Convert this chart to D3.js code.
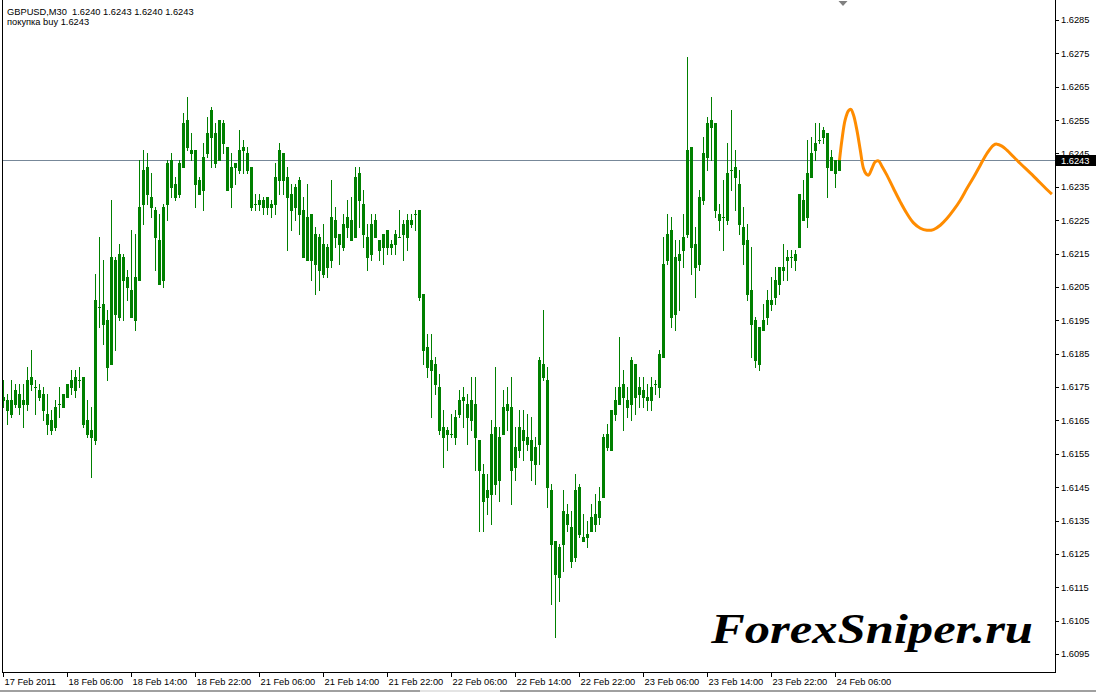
<!DOCTYPE html>
<html><head><meta charset="utf-8">
<script src="https://cdn.jsdelivr.net/npm/d3@7"></script>
<style>html,body{margin:0;padding:0;background:#fff;} svg{display:block;}</style>
</head><body>
<svg id="chart" width="1096" height="692"></svg>
<script>
// ---- data (GBPUSD M30) ----
const opens = [1.6172,1.6171,1.6167,1.6170,1.6173,1.6170,1.6170,1.6178,1.6175,1.6174,
 1.6173,1.6167,1.6165,1.6163,1.6170,1.6169,1.6172,1.6175,1.6178,1.6177,
 1.6178,1.6165,1.6160,1.6159,1.6199,1.6200,1.6195,1.6182,1.6213,1.6196,
 1.6214,1.6208,1.6204,1.6195,1.6207,1.6230,1.6241,1.6232,1.6228,1.6219,
 1.6207,1.6230,1.6243,1.6236,1.6233,1.6241,1.6255,1.6246,1.6246,1.6237,
 1.6234,1.6245,1.6250,1.6251,1.6243,1.6254,1.6247,1.6235,1.6241,1.6240,
 1.6246,1.6245,1.6241,1.6230,1.6230,1.6231,1.6229,1.6230,1.6230,1.6237,
 1.6245,1.6238,1.6233,1.6229,1.6237,1.6228,1.6213,1.6227,1.6212,1.6220,
 1.6209,1.6217,1.6213,1.6225,1.6221,1.6217,1.6223,1.6225,1.6220,1.6239,
 1.6230,1.6220,1.6215,1.6225,1.6219,1.6217,1.6222,1.6217,1.6218,1.6220,
 1.6221,1.6225,1.6224,1.6227,1.6228,1.6203,1.6187,1.6180,1.6182,1.6175,
 1.6163,1.6161,1.6161,1.6160,1.6167,1.6171,1.6170,1.6165,1.6170,1.6159,
 1.6149,1.6142,1.6143,1.6163,1.6147,1.6161,1.6170,1.6169,1.6151,1.6156,
 1.6162,1.6158,1.6159,1.6152,1.6158,1.6182,1.6177,1.6144,1.6129,1.6118,
 1.6128,1.6137,1.6133,1.6124,1.6145,1.6130,1.6130,1.6132,1.6134,1.6136,
 1.6142,1.6161,1.6156,1.6167,1.6170,1.6176,1.6171,1.6170,1.6182,1.6173,
 1.6174,1.6172,1.6171,1.6176,1.6175,1.6184,1.6213,1.6222,1.6197,1.6213,
 1.6216,1.6221,1.6247,1.6218,1.6212,1.6231,1.6244,1.6253,1.6254,1.6227,
 1.6226,1.6225,1.6240,1.6241,1.6236,1.6223,1.6219,1.6204,1.6195,1.6182,
 1.6192,1.6196,1.6200,1.6202,1.6206,1.6210,1.6213,1.6214,1.6213,1.6217,
 1.6231,1.6226,1.6238,1.6246,1.6249,1.6250,1.6251,1.6240,1.6243,1.6240];
const highs = [1.6177,1.6173,1.6177,1.6176,1.6176,1.6176,1.6181,1.6186,1.6177,1.6176,
 1.6175,1.6173,1.6168,1.6171,1.6175,1.6173,1.6176,1.6180,1.6180,1.6181,
 1.6178,1.6171,1.6169,1.6209,1.6220,1.6213,1.6198,1.6231,1.6214,1.6218,
 1.6215,1.6210,1.6222,1.6221,1.6243,1.6246,1.6245,1.6239,1.6229,1.6227,
 1.6230,1.6243,1.6245,1.6238,1.6243,1.6257,1.6262,1.6251,1.6246,1.6238,
 1.6248,1.6256,1.6259,1.6254,1.6255,1.6255,1.6247,1.6245,1.6242,1.6252,
 1.6249,1.6247,1.6241,1.6233,1.6233,1.6232,1.6232,1.6231,1.6242,1.6248,
 1.6245,1.6241,1.6236,1.6236,1.6238,1.6232,1.6236,1.6227,1.6223,1.6221,
 1.6224,1.6218,1.6237,1.6229,1.6221,1.6227,1.6231,1.6232,1.6241,1.6241,
 1.6234,1.6224,1.6227,1.6227,1.6219,1.6221,1.6222,1.6219,1.6222,1.6228,
 1.6225,1.6227,1.6227,1.6228,1.6228,1.6203,1.6191,1.6191,1.6184,1.6179,
 1.6168,1.6163,1.6167,1.6168,1.6174,1.6175,1.6173,1.6178,1.6178,1.6159,
 1.6152,1.6149,1.6165,1.6181,1.6163,1.6174,1.6175,1.6178,1.6163,1.6168,
 1.6168,1.6167,1.6166,1.6160,1.6184,1.6198,1.6181,1.6146,1.6129,1.6128,
 1.6144,1.6140,1.6138,1.6149,1.6146,1.6137,1.6135,1.6140,1.6143,1.6145,
 1.6161,1.6164,1.6168,1.6175,1.6190,1.6180,1.6175,1.6184,1.6182,1.6178,
 1.6178,1.6176,1.6178,1.6177,1.6186,1.6220,1.6227,1.6226,1.6219,1.6219,
 1.6227,1.6274,1.6247,1.6223,1.6234,1.6250,1.6256,1.6262,1.6254,1.6230,
 1.6237,1.6248,1.6258,1.6246,1.6240,1.6229,1.6224,1.6217,1.6196,1.6193,
 1.6200,1.6204,1.6208,1.6211,1.6211,1.6218,1.6216,1.6216,1.6216,1.6233,
 1.6237,1.6249,1.6250,1.6254,1.6254,1.6253,1.6251,1.6246,1.6243,1.6243];
const lows = [1.6169,1.6164,1.6166,1.6169,1.6167,1.6163,1.6168,1.6174,1.6167,1.6171,
 1.6165,1.6161,1.6161,1.6162,1.6166,1.6169,1.6172,1.6173,1.6172,1.6175,
 1.6163,1.6160,1.6148,1.6158,1.6193,1.6188,1.6177,1.6182,1.6186,1.6195,
 1.6195,1.6201,1.6196,1.6192,1.6207,1.6224,1.6230,1.6226,1.6210,1.6206,
 1.6205,1.6225,1.6232,1.6231,1.6232,1.6241,1.6246,1.6243,1.6229,1.6233,
 1.6228,1.6244,1.6241,1.6241,1.6243,1.6245,1.6234,1.6229,1.6236,1.6239,
 1.6239,1.6239,1.6228,1.6228,1.6228,1.6227,1.6227,1.6226,1.6227,1.6233,
 1.6233,1.6216,1.6222,1.6225,1.6221,1.6214,1.6213,1.6207,1.6203,1.6204,
 1.6208,1.6208,1.6211,1.6217,1.6212,1.6216,1.6220,1.6219,1.6220,1.6223,
 1.6217,1.6210,1.6213,1.6220,1.6213,1.6212,1.6215,1.6215,1.6215,1.6220,
 1.6213,1.6216,1.6223,1.6222,1.6201,1.6182,1.6178,1.6166,1.6173,1.6161,
 1.6151,1.6156,1.6160,1.6158,1.6166,1.6163,1.6158,1.6162,1.6150,1.6132,
 1.6132,1.6137,1.6134,1.6143,1.6141,1.6161,1.6162,1.6140,1.6147,1.6154,
 1.6153,1.6156,1.6147,1.6146,1.6152,1.6177,1.6139,1.6110,1.6100,1.6111,
 1.6120,1.6132,1.6121,1.6123,1.6130,1.6129,1.6127,1.6132,1.6132,1.6134,
 1.6142,1.6156,1.6156,1.6165,1.6170,1.6162,1.6166,1.6165,1.6167,1.6169,
 1.6169,1.6168,1.6168,1.6173,1.6172,1.6184,1.6212,1.6193,1.6192,1.6198,
 1.6211,1.6220,1.6209,1.6202,1.6210,1.6230,1.6240,1.6243,1.6226,1.6222,
 1.6216,1.6224,1.6234,1.6228,1.6221,1.6212,1.6201,1.6184,1.6181,1.6180,
 1.6192,1.6194,1.6198,1.6200,1.6203,1.6207,1.6207,1.6211,1.6210,1.6217,
 1.6225,1.6223,1.6238,1.6243,1.6248,1.6248,1.6232,1.6240,1.6235,1.6240];
const closes = [1.6171,1.6168,1.6171,1.6174,1.6169,1.6171,1.6177,1.6176,1.6175,1.6172,
 1.6168,1.6164,1.6162,1.6169,1.6170,1.6173,1.6176,1.6177,1.6174,1.6177,
 1.6164,1.6161,1.6162,1.6201,1.6199,1.6194,1.6181,1.6214,1.6197,1.6215,
 1.6207,1.6205,1.6196,1.6208,1.6229,1.6240,1.6233,1.6229,1.6220,1.6206,
 1.6229,1.6242,1.6235,1.6232,1.6242,1.6254,1.6247,1.6245,1.6236,1.6233,
 1.6244,1.6251,1.6258,1.6242,1.6255,1.6248,1.6234,1.6241,1.6242,1.6246,
 1.6247,1.6240,1.6229,1.6230,1.6231,1.6229,1.6232,1.6229,1.6238,1.6246,
 1.6237,1.6232,1.6228,1.6235,1.6227,1.6214,1.6226,1.6213,1.6221,1.6210,
 1.6218,1.6211,1.6226,1.6220,1.6218,1.6224,1.6226,1.6219,1.6238,1.6231,
 1.6221,1.6214,1.6224,1.6220,1.6216,1.6221,1.6217,1.6218,1.6221,1.6220,
 1.6224,1.6220,1.6225,1.6227,1.6202,1.6186,1.6181,1.6183,1.6176,1.6162,
 1.6160,1.6162,1.6161,1.6166,1.6171,1.6172,1.6166,1.6171,1.6160,1.6150,
 1.6141,1.6144,1.6161,1.6146,1.6160,1.6169,1.6168,1.6150,1.6157,1.6163,
 1.6159,1.6160,1.6153,1.6157,1.6183,1.6178,1.6145,1.6128,1.6119,1.6127,
 1.6138,1.6134,1.6123,1.6144,1.6131,1.6129,1.6131,1.6136,1.6137,1.6141,
 1.6160,1.6157,1.6168,1.6171,1.6175,1.6172,1.6169,1.6183,1.6172,1.6175,
 1.6172,1.6171,1.6175,1.6176,1.6185,1.6212,1.6221,1.6196,1.6214,1.6215,
 1.6220,1.6246,1.6217,1.6211,1.6232,1.6245,1.6254,1.6255,1.6228,1.6225,
 1.6226,1.6239,1.6240,1.6238,1.6224,1.6218,1.6203,1.6194,1.6183,1.6193,
 1.6195,1.6201,1.6201,1.6207,1.6211,1.6211,1.6214,1.6214,1.6215,1.6233,
 1.6225,1.6239,1.6245,1.6248,1.6249,1.6252,1.6241,1.6244,1.6239,1.6243];

// forecast curve: offset in bars after the last candle, price
const forecastBars = [0,0.6,1.4,2.25,2.85,3.5,4.35,5.2,6,6.7,7.25,8.1,8.9,9.75,10.6,11.85,13.5,15.2,16.85,18.5,
 20.2,21.85,23.5,25.2,26.85,28.5,30.2,31.85,33.6,35.2,36.85,38.5,39.35,40.6,41.85,43.5,45.2,48.5,51.85,53.1];
const forecastPrices = [1.6243,1.6249,1.6255,1.62578,1.62582,1.62565,1.6252,1.6246,1.62405,1.62388,
 1.62385,1.62405,1.62425,1.62428,1.62412,1.62385,1.62345,1.62305,1.6227,1.62242,
 1.62226,1.6222,1.62222,1.62235,1.62255,1.6228,1.6231,1.62345,1.6238,1.62415,
 1.6245,1.62475,1.62478,1.62472,1.6246,1.6244,1.6242,1.62382,1.62342,1.62328];

const yTicks = [1.6095,1.6105,1.6115,1.6125,1.6135,1.6145,1.6155,1.6165,1.6175,1.6185,
 1.6195,1.6205,1.6215,1.6225,1.6235,1.6245,1.6255,1.6265,1.6275,1.6285];
const xTickBars = [0,16,32,48,64,80,96,112,128,144,160,176,192,208];
const xTickLabels = ["17 Feb 2011","18 Feb 06:00","18 Feb 14:00","18 Feb 22:00","21 Feb 06:00",
 "21 Feb 14:00","21 Feb 22:00","22 Feb 06:00","22 Feb 14:00","22 Feb 22:00","23 Feb 06:00",
 "23 Feb 14:00","23 Feb 22:00","24 Feb 06:00"];
const headerLine1 = "GBPUSD,M30  1.6240 1.6243 1.6240 1.6243";
const headerLine2 = "покупка buy 1.6243";
const bidPrice = 1.6243;
const watermark = "ForexSniper.ru";

// ---- layout ----
const W = 1096, H = 692;
const plotLeft = 2, plotRight = 1055, plotBottom = 672;
const font = "'Liberation Sans', Arial, sans-serif";
const green = "#008000";

const svg = d3.select("#chart");
svg.append("rect").attr("width", W).attr("height", H).attr("fill", "#fff");

const x = d3.scaleLinear().domain([0, 263]).range([3.5, 3.5 + 263 * 4]);
const y = d3.scaleLinear().domain([1.6095, 1.6285]).range([654, 20]);

const candles = opens.map((o, i) => ({i, o, h: highs[i], l: lows[i], c: closes[i]}));

// bid line
const by = Math.round(y(bidPrice)) + 0.5;
svg.append("line").attr("x1", plotLeft).attr("x2", plotRight).attr("y1", by).attr("y2", by)
  .attr("stroke", "#778899").attr("stroke-width", 1);

// candles
const g = svg.append("g");
g.selectAll("rect.wick").data(candles).join("rect").attr("class", "wick")
  .attr("x", d => x(d.i) - 0.5).attr("width", 1)
  .attr("y", d => Math.round(y(d.h)))
  .attr("height", d => Math.round(y(d.l)) - Math.round(y(d.h)) + 1)
  .attr("fill", green);
g.selectAll("rect.body").data(candles).join("rect").attr("class", "body")
  .attr("x", d => x(d.i) - 1.5).attr("width", 3)
  .attr("y", d => Math.round(y(Math.max(d.o, d.c))))
  .attr("height", d => Math.round(y(Math.min(d.o, d.c))) - Math.round(y(Math.max(d.o, d.c))) + 1)
  .attr("fill", green);

// forecast line
const lastIdx = opens.length - 1;
const fc = forecastBars.map((b, k) => [x(lastIdx + b), y(forecastPrices[k])]);
svg.append("path").attr("d", d3.line().curve(d3.curveCatmullRom.alpha(0.5))(fc))
  .attr("fill", "none").attr("stroke", "#FF8C00").attr("stroke-width", 3)
  .attr("stroke-linejoin", "round");

// frame
svg.append("line").attr("x1", 2.5).attr("x2", 2.5).attr("y1", 0).attr("y2", plotBottom + 0.5)
  .attr("stroke", "#000");
svg.append("line").attr("x1", 2).attr("x2", plotRight + 1).attr("y1", plotBottom + 0.5).attr("y2", plotBottom + 0.5)
  .attr("stroke", "#000");
svg.append("line").attr("x1", plotRight + 0.5).attr("x2", plotRight + 0.5).attr("y1", 0).attr("y2", plotBottom + 1)
  .attr("stroke", "#000");

// right price axis
const ya = svg.append("g");
yTicks.forEach(t => {
  const ty = Math.round(y(t)) + 0.5;
  ya.append("line").attr("x1", plotRight + 1).attr("x2", plotRight + 4).attr("y1", ty).attr("y2", ty).attr("stroke", "#000");
  ya.append("text").attr("x", 1061).attr("y", y(t) + 3.4).text(t.toFixed(4))
    .attr("font-family", font).attr("font-size", "9.3px").attr("fill", "#000");
});
// current price label
svg.append("rect").attr("x", plotRight + 1).attr("y", Math.round(y(bidPrice)) - 5).attr("width", W - plotRight - 1).attr("height", 11).attr("fill", "#000");
svg.append("text").attr("x", 1061).attr("y", y(bidPrice) + 3.4).text(bidPrice.toFixed(4))
  .attr("font-family", font).attr("font-size", "9.3px").attr("fill", "#fff");

// bottom time axis
const xa = svg.append("g");
xTickBars.forEach((b, k) => {
  const tx = x(b);
  xa.append("line").attr("x1", tx).attr("x2", tx).attr("y1", plotBottom + 1).attr("y2", plotBottom + 5).attr("stroke", "#000");
  xa.append("text").attr("x", tx + 1).attr("y", 684.5).text(xTickLabels[k])
    .attr("font-family", font).attr("font-size", "9.3px").attr("fill", "#000");
});

// window bottom edge
svg.append("rect").attr("x", 0).attr("y", 690).attr("width", W).attr("height", 2).attr("fill", "#a0a0a0");
svg.append("rect").attr("x", 420).attr("y", 690).attr("width", 80).attr("height", 2).attr("fill", "#e4e4e4");

// header texts
svg.append("text").attr("x", 7).attr("y", 14.5).text(headerLine1).style("white-space", "pre")
  .attr("font-family", font).attr("font-size", "9.3px").attr("fill", "#000");
svg.append("text").attr("x", 7).attr("y", 25).text(headerLine2)
  .attr("font-family", font).attr("font-size", "9.3px").attr("fill", "#000");

// chart shift marker
svg.append("path").attr("d", "M838.5,1 L847.5,1 L843,6 Z").attr("fill", "#808080");

// watermark
svg.append("text").attr("x", 711).attr("y", 643).text(watermark)
  .attr("font-family", "'Liberation Serif', 'Times New Roman', serif")
  .attr("font-weight", "bold").attr("font-style", "italic").attr("font-size", "43px")
  .attr("textLength", 322).attr("lengthAdjust", "spacingAndGlyphs").attr("fill", "#000");
</script>
</body></html>
